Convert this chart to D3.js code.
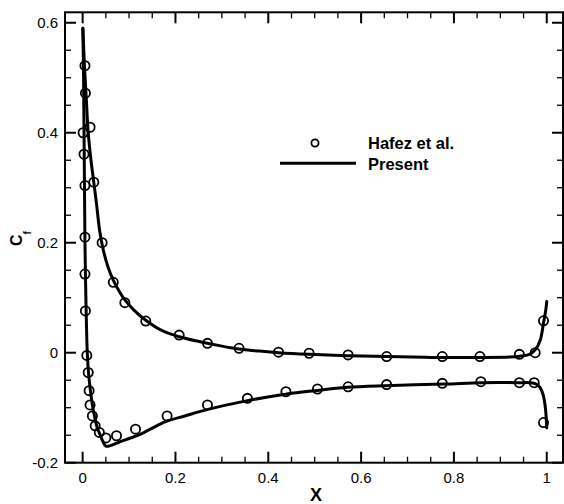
<!DOCTYPE html>
<html>
<head>
<meta charset="utf-8">
<script src="https://cdn.jsdelivr.net/npm/d3@7"></script>
<style>
  html, body { margin: 0; padding: 0; background: #fff; overflow: hidden; }
  svg { display: block; }
  text { font-family: "Liberation Sans", Arial, Helvetica, sans-serif; fill: #000; }
</style>
</head>
<body>
<svg id="chart" width="564" height="504"></svg>
<script>
// Skin-friction coefficient along the chord: computed curves (upper / lower surface)
const presentUpperX  = [0.0005, 0.004, 0.008, 0.012, 0.018, 0.024, 0.03, 0.037, 0.045, 0.055, 0.066, 0.08, 0.091, 0.11, 0.136, 0.167, 0.208, 0.253, 0.3, 0.337, 0.38, 0.422, 0.488, 0.572, 0.655, 0.75, 0.85, 0.92, 0.945, 0.963, 0.976, 0.986, 0.993, 0.998, 1.0];
const presentUpperCf = [0.59, 0.52, 0.46, 0.40, 0.35, 0.31, 0.27, 0.22, 0.185, 0.155, 0.132, 0.11, 0.096, 0.078, 0.059, 0.042, 0.029, 0.020, 0.012, 0.0067, 0.003, 0.0, -0.003, -0.0055, -0.007, -0.0085, -0.0088, -0.008, -0.006, -0.003, 0.006, 0.023, 0.054, 0.078, 0.093];

const presentLowerX  = [0.0005, 0.002, 0.003, 0.004, 0.005, 0.007, 0.01, 0.013, 0.017, 0.021, 0.026, 0.031, 0.037, 0.044, 0.05, 0.06, 0.08, 0.1, 0.12, 0.15, 0.18, 0.22, 0.27, 0.35, 0.44, 0.5, 0.57, 0.65, 0.78, 0.86, 0.94, 0.97, 0.979, 0.986, 0.992, 0.997, 1.0];
const presentLowerCf = [0.59, 0.5, 0.4, 0.3, 0.2, 0.1, 0.0, -0.04, -0.07, -0.095, -0.117, -0.135, -0.148, -0.162, -0.17, -0.169, -0.162, -0.156, -0.150, -0.137, -0.125, -0.115, -0.103, -0.088, -0.075, -0.069, -0.063, -0.060, -0.057, -0.0545, -0.0545, -0.055, -0.058, -0.064, -0.076, -0.1, -0.137];

// Reference data points (Hafez et al.)
const hafezUpperX  = [0.005, 0.006, 0.016, 0.024, 0.042, 0.066, 0.091, 0.136, 0.208, 0.269, 0.337, 0.422, 0.488, 0.572, 0.655, 0.775, 0.856, 0.941, 0.975, 0.993];
const hafezUpperCf = [0.522, 0.472, 0.41, 0.31, 0.20, 0.128, 0.091, 0.0576, 0.032, 0.017, 0.008, 0.001, -0.001, -0.004, -0.007, -0.007, -0.007, -0.003, 0.0, 0.058];

const hafezLowerX  = [0.001, 0.003, 0.005, 0.005, 0.005, 0.006, 0.009, 0.012, 0.014, 0.016, 0.021, 0.027, 0.036, 0.050, 0.073, 0.114, 0.182, 0.269, 0.355, 0.438, 0.506, 0.572, 0.655, 0.775, 0.858, 0.941, 0.973, 0.993];
const hafezLowerCf = [0.40, 0.361, 0.304, 0.21, 0.143, 0.076, -0.005, -0.036, -0.069, -0.095, -0.115, -0.133, -0.145, -0.155, -0.151, -0.139, -0.115, -0.095, -0.083, -0.071, -0.066, -0.062, -0.058, -0.0557, -0.0527, -0.0545, -0.0545, -0.127];

// Axis ticks
const xMajorTicks = [0, 0.2, 0.4, 0.6, 0.8, 1];
const xTickLabels = ["0", "0.2", "0.4", "0.6", "0.8", "1"];
const xMinorTicks = [0.05, 0.1, 0.15, 0.25, 0.3, 0.35, 0.45, 0.5, 0.55, 0.65, 0.7, 0.75, 0.85, 0.9, 0.95];
const yMajorTicks = [-0.2, 0, 0.2, 0.4, 0.6];
const yTickLabels = ["-0.2", "0", "0.2", "0.4", "0.6"];
const yMinorTicks = [-0.15, -0.1, -0.05, 0.05, 0.1, 0.15, 0.25, 0.3, 0.35, 0.45, 0.5, 0.55];

const legendLabels = ["Hafez et al.", "Present"];

const svg = d3.select("#chart");

const plotLeft = 65, plotRight = 563, plotTop = 12.3, plotBottom = 462.7;
const x = d3.scaleLinear().domain([-0.038, 1.035]).range([plotLeft, plotRight]);
const y = d3.scaleLinear().domain([-0.2, 0.619]).range([plotBottom, plotTop]);

const zip = (xs, ys) => xs.map((v, i) => [v, ys[i]]);

const majorLen = 11, minorLen = 6;

// Inward ticks on all four sides of the frame
const ticks = svg.append("g").attr("stroke", "#000");
function xTicks(values, len, width) {
  [[plotBottom, -1], [plotTop, 1]].forEach(([base, dir]) => {
    ticks.append("g").selectAll("line").data(values).join("line")
      .attr("x1", d => x(d)).attr("x2", d => x(d))
      .attr("y1", base).attr("y2", base + dir * len)
      .attr("stroke-width", width);
  });
}
function yTicks(values, len, width) {
  [[plotLeft, 1], [plotRight, -1]].forEach(([base, dir]) => {
    ticks.append("g").selectAll("line").data(values).join("line")
      .attr("y1", d => y(d)).attr("y2", d => y(d))
      .attr("x1", base).attr("x2", base + dir * len)
      .attr("stroke-width", width);
  });
}
xTicks(xMajorTicks, majorLen, 2);
xTicks(xMinorTicks, minorLen, 1.3);
yTicks(yMajorTicks, majorLen, 2);
yTicks(yMinorTicks, minorLen, 1.3);

// Tick labels
svg.append("g").selectAll("text").data(xMajorTicks).join("text")
  .attr("x", d => x(d)).attr("y", plotBottom + 20)
  .attr("text-anchor", "middle").style("font-size", "15px")
  .text((d, i) => xTickLabels[i]);
svg.append("g").selectAll("text").data(yMajorTicks).join("text")
  .attr("x", plotLeft - 7).attr("y", d => y(d)).attr("dy", "0.34em")
  .attr("text-anchor", "end").style("font-size", "15px")
  .text((d, i) => yTickLabels[i]);

// Plot frame
svg.append("rect")
  .attr("x", plotLeft).attr("y", plotTop)
  .attr("width", plotRight - plotLeft).attr("height", plotBottom - plotTop)
  .attr("fill", "none").attr("stroke", "#000").attr("stroke-width", 2);

// Computed curves
const lineGen = d3.line().x(d => x(d[0])).y(d => y(d[1])).curve(d3.curveCatmullRom.alpha(0.5));
[zip(presentUpperX, presentUpperCf), zip(presentLowerX, presentLowerCf)].forEach(pts => {
  svg.append("path").datum(pts)
    .attr("d", lineGen)
    .attr("fill", "none").attr("stroke", "#000").attr("stroke-width", 3)
    .attr("stroke-linejoin", "round").attr("stroke-linecap", "round");
});

// Reference points
const refPoints = zip(hafezUpperX, hafezUpperCf).concat(zip(hafezLowerX, hafezLowerCf));
svg.append("g").selectAll("circle").data(refPoints).join("circle")
  .attr("cx", d => x(d[0])).attr("cy", d => y(d[1])).attr("r", 4.6)
  .attr("fill", "none").attr("stroke", "#000").attr("stroke-width", 1.8);

// Axis titles
svg.append("text")
  .attr("x", (plotLeft + plotRight) / 2 + 2).attr("y", 501)
  .attr("text-anchor", "middle")
  .style("font-size", "18px").style("font-weight", "bold")
  .text("X");

const yTitle = svg.append("text")
  .attr("transform", "translate(21.5,246) rotate(-90)")
  .style("font-size", "16px").style("font-weight", "bold");
yTitle.append("tspan").text("C");
yTitle.append("tspan").attr("dy", 9).style("font-size", "10px").text("f");

// Legend
const legend = svg.append("g");
legend.append("circle").attr("cx", 315).attr("cy", 143).attr("r", 3.6)
  .attr("fill", "none").attr("stroke", "#000").attr("stroke-width", 1.8);
legend.append("line").attr("x1", 280).attr("x2", 356).attr("y1", 163.3).attr("y2", 163.3)
  .attr("stroke", "#000").attr("stroke-width", 3);
legend.selectAll("text.lbl").data(legendLabels).join("text")
  .attr("class", "lbl")
  .attr("x", 368).attr("y", (d, i) => 148.5 + i * 21.5)
  .style("font-size", "16.5px").style("font-weight", "bold")
  .text(d => d);
</script>
</body>
</html>
